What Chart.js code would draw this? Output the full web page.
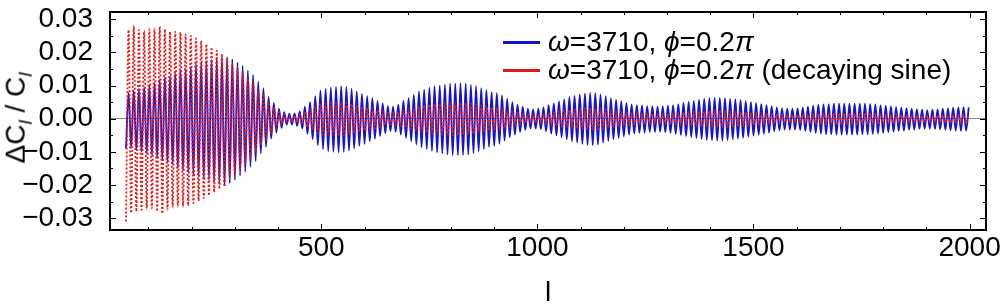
<!DOCTYPE html>
<html lang="en">
<head>
<meta charset="UTF-8">
<title>Relative change of C_l</title>
<script src="https://cdn.jsdelivr.net/npm/chart.js"></script>
<style>
  body { margin: 0; background: #fff; }
  #wrap { position: relative; width: 1000px; height: 307px; }
  #legend { position: absolute; left: 503px; top: 28px; font-family: "Liberation Sans", Arial, sans-serif; font-size: 28px; line-height: 28px; color: #000; }
  #legend .row { display: flex; align-items: center; white-space: nowrap; }
  #legend .swatch { width: 37px; height: 3px; margin-right: 8px; }
  #ytitle { position: absolute; left: 18px; top: 118px; transform: translate(-50%, -50%) rotate(-90deg); font-family: "Liberation Sans", Arial, sans-serif; font-size: 28px; white-space: nowrap; color: #000; }
  #ytitle sub { font-size: 19px; font-style: italic; }
</style>
</head>
<body>
<div id="wrap">
  <canvas id="chart" width="1000" height="307"></canvas>
  <div id="ytitle">&Delta;C<sub>l</sub> / C<sub>l</sub></div>
  <div id="legend">
    <div class="row"><span class="swatch" style="background:#1414c8"></span><span><i>ω</i>=3710, <i>ϕ</i>=0.2<i>π</i></span></div>
    <div class="row"><span class="swatch" style="background:#e01818"></span><span><i>ω</i>=3710, <i>ϕ</i>=0.2<i>π</i> (decaying sine)</span></div>
  </div>
</div>
<script>
// multipoles of each crest / trough
const ellValues = [
  48, 54, 60, 66, 72, 78, 84, 90, 96, 102,
  108, 114, 120, 126, 132, 138, 144, 150, 156, 162,
  168, 174, 180, 186, 192, 198, 204, 210, 216, 222,
  228, 234, 240, 246, 252, 258, 264, 270, 276, 282,
  288, 294, 300, 306, 312, 318, 324, 330, 336, 342,
  348, 354, 360, 366, 372, 378, 384, 390, 396, 402,
  408, 414, 420, 426, 432, 438, 444, 450, 456, 462,
  468, 474, 480, 486, 492, 498, 504, 510, 516, 522,
  528, 534, 540, 546, 552, 558, 564, 570, 576, 582,
  588, 594, 600, 606, 612, 618, 624, 630, 636, 642,
  648, 654, 660, 666, 672, 678, 684, 690, 696, 702,
  708, 714, 720, 726, 732, 738, 744, 750, 756, 762,
  768, 774, 780, 786, 792, 798, 804, 810, 816, 822,
  828, 834, 840, 846, 852, 858, 864, 870, 876, 882,
  888, 894, 900, 906, 912, 918, 924, 930, 936, 942,
  948, 954, 960, 966, 972, 978, 984, 990, 996, 1002,
  1008, 1014, 1020, 1026, 1032, 1038, 1044, 1050, 1056, 1062,
  1068, 1074, 1080, 1086, 1092, 1098, 1104, 1110, 1116, 1122,
  1128, 1134, 1140, 1146, 1152, 1158, 1164, 1170, 1176, 1182,
  1188, 1194, 1200, 1206, 1212, 1218, 1224, 1230, 1236, 1242,
  1248, 1254, 1260, 1266, 1272, 1278, 1284, 1290, 1296, 1302,
  1308, 1314, 1320, 1326, 1332, 1338, 1344, 1350, 1356, 1362,
  1368, 1374, 1380, 1386, 1392, 1398, 1404, 1410, 1416, 1422,
  1428, 1434, 1440, 1446, 1452, 1458, 1464, 1470, 1476, 1482,
  1488, 1494, 1500, 1506, 1512, 1518, 1524, 1530, 1536, 1542,
  1548, 1554, 1560, 1566, 1572, 1578, 1584, 1590, 1596, 1602,
  1608, 1614, 1620, 1626, 1632, 1638, 1644, 1650, 1656, 1662,
  1668, 1674, 1680, 1686, 1692, 1698, 1704, 1710, 1716, 1722,
  1728, 1734, 1740, 1746, 1752, 1758, 1764, 1770, 1776, 1782,
  1788, 1794, 1800, 1806, 1812, 1818, 1824, 1830, 1836, 1842,
  1848, 1854, 1860, 1866, 1872, 1878, 1884, 1890, 1896, 1902,
  1908, 1914, 1920, 1926, 1932, 1938, 1944, 1950, 1956, 1962,
  1968, 1974, 1980, 1986, 1992, 1998
];

// blue: omega=3710, phi=0.2pi
const blueValues = [
  -0.0090, 0.0078, -0.0088, 0.0085, -0.0095, 0.0090, -0.0100, 0.0095, -0.0105, 0.0100,
  -0.0110, 0.0108, -0.0118, 0.0118, -0.0125, 0.0125, -0.0132, 0.0130, -0.0138, 0.0138,
  -0.0150, 0.0148, -0.0155, 0.0152, -0.0162, 0.0158, -0.0168, 0.0165, -0.0175, 0.0170,
  -0.0180, 0.0172, -0.0185, 0.0178, -0.0190, 0.0180, -0.0198, 0.0185, -0.0200, 0.0185,
  -0.0195, 0.0180, -0.0185, 0.0170, -0.0172, 0.0160, -0.0160, 0.0146, -0.0145, 0.0132,
  -0.0128, 0.0112, -0.0105, 0.0092, -0.0085, 0.0066, -0.0060, 0.0048, -0.0042, 0.0030,
  -0.0028, 0.0020, -0.0018, 0.0015, -0.0018, 0.0016, -0.0022, 0.0022, -0.0030, 0.0036,
  -0.0046, 0.0050, -0.0062, 0.0068, -0.0080, 0.0085, -0.0092, 0.0090, -0.0098, 0.0094,
  -0.0100, 0.0096, -0.0102, 0.0098, -0.0100, 0.0096, -0.0096, 0.0090, -0.0090, 0.0082,
  -0.0082, 0.0075, -0.0076, 0.0068, -0.0068, 0.0062, -0.0060, 0.0054, -0.0052, 0.0046,
  -0.0044, 0.0038, -0.0038, 0.0036, -0.0040, 0.0042, -0.0048, 0.0054, -0.0058, 0.0062,
  -0.0068, 0.0072, -0.0078, 0.0082, -0.0086, 0.0088, -0.0092, 0.0094, -0.0097, 0.0098,
  -0.0102, 0.0100, -0.0105, 0.0103, -0.0108, 0.0106, -0.0110, 0.0106, -0.0110, 0.0107,
  -0.0110, 0.0106, -0.0108, 0.0102, -0.0104, 0.0098, -0.0098, 0.0092, -0.0092, 0.0086,
  -0.0085, 0.0080, -0.0082, 0.0077, -0.0076, 0.0070, -0.0066, 0.0060, -0.0056, 0.0050,
  -0.0048, 0.0042, -0.0040, 0.0036, -0.0034, 0.0030, -0.0030, 0.0028, -0.0030, 0.0030,
  -0.0032, 0.0034, -0.0038, 0.0041, -0.0045, 0.0046, -0.0050, 0.0052, -0.0056, 0.0058,
  -0.0062, 0.0065, -0.0068, 0.0069, -0.0072, 0.0073, -0.0076, 0.0076, -0.0079, 0.0078,
  -0.0080, 0.0077, -0.0078, 0.0073, -0.0072, 0.0068, -0.0067, 0.0062, -0.0062, 0.0057,
  -0.0058, 0.0052, -0.0053, 0.0047, -0.0048, 0.0043, -0.0045, 0.0041, -0.0043, 0.0040,
  -0.0042, 0.0038, -0.0040, 0.0037, -0.0040, 0.0036, -0.0039, 0.0037, -0.0041, 0.0039,
  -0.0043, 0.0041, -0.0046, 0.0044, -0.0049, 0.0048, -0.0052, 0.0051, -0.0055, 0.0054,
  -0.0058, 0.0057, -0.0061, 0.0060, -0.0064, 0.0062, -0.0065, 0.0063, -0.0066, 0.0063,
  -0.0066, 0.0062, -0.0064, 0.0060, -0.0062, 0.0058, -0.0060, 0.0056, -0.0057, 0.0053,
  -0.0054, 0.0050, -0.0051, 0.0047, -0.0048, 0.0044, -0.0045, 0.0041, -0.0042, 0.0038,
  -0.0038, 0.0034, -0.0035, 0.0031, -0.0033, 0.0030, -0.0033, 0.0030, -0.0033, 0.0031,
  -0.0034, 0.0033, -0.0037, 0.0036, -0.0040, 0.0039, -0.0043, 0.0042, -0.0045, 0.0043,
  -0.0047, 0.0044, -0.0047, 0.0045, -0.0048, 0.0045, -0.0048, 0.0045, -0.0048, 0.0045,
  -0.0048, 0.0045, -0.0048, 0.0045, -0.0047, 0.0045, -0.0047, 0.0044, -0.0046, 0.0043,
  -0.0045, 0.0041, -0.0043, 0.0039, -0.0041, 0.0037, -0.0039, 0.0035, -0.0037, 0.0033,
  -0.0036, 0.0032, -0.0034, 0.0030, -0.0033, 0.0029, -0.0031, 0.0027, -0.0030, 0.0026,
  -0.0030, 0.0027, -0.0031, 0.0028, -0.0032, 0.0030, -0.0033, 0.0031, -0.0035, 0.0033,
  -0.0036, 0.0034, -0.0037, 0.0035, -0.0036, 0.0034
];

// red dotted: omega=3710, phi=0.2pi (decaying sine)
const redValues = [
  -0.0310, 0.0268, -0.0285, 0.0280, -0.0280, 0.0268, -0.0275, 0.0265, -0.0272, 0.0270,
  -0.0270, 0.0272, -0.0280, 0.0278, -0.0287, 0.0270, -0.0275, 0.0262, -0.0268, 0.0262,
  -0.0265, 0.0260, -0.0265, 0.0255, -0.0262, 0.0250, -0.0255, 0.0242, -0.0248, 0.0235,
  -0.0240, 0.0225, -0.0232, 0.0215, -0.0222, 0.0205, -0.0212, 0.0195, -0.0205, 0.0185,
  -0.0180, 0.0165, -0.0168, 0.0153, -0.0152, 0.0140, -0.0138, 0.0125, -0.0122, 0.0110,
  -0.0100, 0.0087, -0.0080, 0.0070, -0.0063, 0.0049, -0.0044, 0.0034, -0.0029, 0.0020,
  -0.0018, 0.0013, -0.0011, 0.0009, -0.0011, 0.0010, -0.0013, 0.0013, -0.0017, 0.0021,
  -0.0026, 0.0028, -0.0034, 0.0037, -0.0043, 0.0045, -0.0048, 0.0046, -0.0050, 0.0047,
  -0.0050, 0.0048, -0.0051, 0.0049, -0.0050, 0.0047, -0.0047, 0.0044, -0.0044, 0.0040,
  -0.0039, 0.0036, -0.0036, 0.0033, -0.0033, 0.0030, -0.0029, 0.0026, -0.0025, 0.0022,
  -0.0021, 0.0018, -0.0018, 0.0017, -0.0019, 0.0020, -0.0023, 0.0025, -0.0027, 0.0029,
  -0.0031, 0.0033, -0.0036, 0.0038, -0.0040, 0.0040, -0.0042, 0.0043, -0.0045, 0.0045,
  -0.0046, 0.0045, -0.0047, 0.0046, -0.0049, 0.0048, -0.0050, 0.0048, -0.0050, 0.0048,
  -0.0048, 0.0047, -0.0048, 0.0045, -0.0046, 0.0043, -0.0043, 0.0040, -0.0040, 0.0038,
  -0.0037, 0.0035, -0.0036, 0.0034, -0.0033, 0.0031, -0.0029, 0.0026, -0.0025, 0.0022,
  -0.0021, 0.0018, -0.0017, 0.0015, -0.0015, 0.0013, -0.0013, 0.0012, -0.0013, 0.0013,
  -0.0013, 0.0014, -0.0016, 0.0017, -0.0019, 0.0019, -0.0021, 0.0022, -0.0024, 0.0024,
  -0.0025, 0.0027, -0.0028, 0.0028, -0.0030, 0.0030, -0.0031, 0.0031, -0.0032, 0.0032,
  -0.0033, 0.0032, -0.0032, 0.0030, -0.0030, 0.0028, -0.0027, 0.0025, -0.0025, 0.0023,
  -0.0023, 0.0021, -0.0021, 0.0019, -0.0019, 0.0017, -0.0018, 0.0016, -0.0017, 0.0016,
  -0.0017, 0.0015, -0.0016, 0.0015, -0.0016, 0.0014, -0.0016, 0.0015, -0.0016, 0.0016,
  -0.0017, 0.0016, -0.0018, 0.0017, -0.0019, 0.0019, -0.0020, 0.0020, -0.0021, 0.0021,
  -0.0023, 0.0022, -0.0024, 0.0023, -0.0025, 0.0024, -0.0025, 0.0025, -0.0026, 0.0025,
  -0.0025, 0.0024, -0.0024, 0.0023, -0.0024, 0.0022, -0.0023, 0.0021, -0.0022, 0.0020,
  -0.0021, 0.0019, -0.0019, 0.0018, -0.0018, 0.0017, -0.0017, 0.0016, -0.0016, 0.0014,
  -0.0014, 0.0013, -0.0013, 0.0012, -0.0012, 0.0011, -0.0012, 0.0011, -0.0012, 0.0011,
  -0.0013, 0.0012, -0.0014, 0.0013, -0.0015, 0.0014, -0.0016, 0.0016, -0.0017, 0.0016,
  -0.0017, 0.0016, -0.0017, 0.0017, -0.0018, 0.0017, -0.0018, 0.0017, -0.0018, 0.0017,
  -0.0017, 0.0016, -0.0017, 0.0016, -0.0017, 0.0016, -0.0017, 0.0016, -0.0017, 0.0015,
  -0.0016, 0.0015, -0.0015, 0.0014, -0.0015, 0.0013, -0.0014, 0.0013, -0.0013, 0.0012,
  -0.0013, 0.0011, -0.0012, 0.0011, -0.0012, 0.0010, -0.0011, 0.0010, -0.0011, 0.0009,
  -0.0011, 0.0010, -0.0011, 0.0010, -0.0011, 0.0011, -0.0012, 0.0011, -0.0012, 0.0012,
  -0.0013, 0.0012, -0.0013, 0.0012, -0.0013, 0.0012
];

const seriesLabels = ['ω=3710, ϕ=0.2π', 'ω=3710, ϕ=0.2π (decaying sine)'];
const xTickValues = [500, 1000, 1500, 2000];
const yTickValues = [-0.03, -0.02, -0.01, 0, 0.01, 0.02, 0.03];
const xRange = [11, 2038];
const yRange = [-0.0336, 0.0322];

function toPoints(values) {
  const n = Math.min(ellValues.length, values.length);
  const pts = [];
  for (let i = 0; i < n; i++) pts.push({ x: ellValues[i], y: values[i] });
  return pts;
}

function fmtY(v) {
  const s = Math.abs(v).toFixed(2);
  return v < -1e-9 ? '\u2212' + s : s;
}

// Mathematica style frame with inward ticks
const framePlugin = {
  id: 'frame',
  afterDraw(chart) {
    const { ctx, chartArea: a, scales: { x, y } } = chart;
    ctx.save();
    ctx.strokeStyle = '#000';
    ctx.lineWidth = 1;
    ctx.beginPath();
    for (let v = 100; v <= xRange[1]; v += 100) {
      const px = Math.round(x.getPixelForValue(v)) + 0.5;
      const len = v % 500 === 0 ? 6 : 3;
      ctx.moveTo(px, a.bottom); ctx.lineTo(px, a.bottom - len);
      ctx.moveTo(px, a.top); ctx.lineTo(px, a.top + len);
    }
    for (let k = -6; k <= 6; k++) {
      const v = k * 0.005;
      const py = Math.round(y.getPixelForValue(v)) + 0.5;
      const len = k % 2 === 0 ? 6 : 3;
      ctx.moveTo(a.left, py); ctx.lineTo(a.left + len, py);
      ctx.moveTo(a.right, py); ctx.lineTo(a.right - len, py);
    }
    ctx.stroke();
    ctx.lineWidth = 2;
    ctx.strokeRect(a.left, a.top, a.right - a.left, a.bottom - a.top);
    ctx.restore();
  }
};

const tickFont = { family: 'Liberation Sans', size: 28, lineHeight: 1 };

new Chart(document.getElementById('chart'), {
  type: 'line',
  data: {
    datasets: [
      {
        label: seriesLabels[0],
        data: toPoints(blueValues),
        borderColor: '#1414d2',
        borderWidth: 1.8,
        pointRadius: 0,
        cubicInterpolationMode: 'monotone',
        order: 1
      },
      {
        label: seriesLabels[1],
        data: toPoints(redValues),
        borderColor: '#e81818',
        borderWidth: 1.8,
        borderDash: [2, 2],
        pointRadius: 0,
        cubicInterpolationMode: 'monotone',
        order: 0
      }
    ]
  },
  options: {
    responsive: false,
    animation: false,
    devicePixelRatio: 1,
    layout: { padding: { top: 12, right: 14, left: 0, bottom: 0 } },
    plugins: { legend: { display: false }, tooltip: { enabled: false } },
    scales: {
      x: {
        type: 'linear',
        min: xRange[0],
        max: xRange[1],
        afterBuildTicks: s => { s.ticks = xTickValues.map(v => ({ value: v })); },
        afterFit: s => { s.height = 77; s.paddingLeft = 0; s.paddingRight = 0; },
        grid: { display: false, drawTicks: false },
        border: { display: false },
        ticks: {
          font: tickFont,
          color: '#000',
          padding: 4,
          maxRotation: 0,
          autoSkip: false,
          callback: v => String(v)
        },
        title: {
          display: true,
          text: 'l',
          font: { family: 'Liberation Sans', size: 28, lineHeight: 1 },
          color: '#000',
          padding: { top: 0, bottom: 0 }
        }
      },
      y: {
        min: yRange[0],
        max: yRange[1],
        afterBuildTicks: s => { s.ticks = yTickValues.map(v => ({ value: v })); },
        afterFit: s => { s.width = 110; s.paddingTop = 0; s.paddingBottom = 0; },
        grid: {
          color: c => (c.tick && Math.abs(c.tick.value) < 1e-9 ? '#8a8a8a' : 'rgba(0,0,0,0)'),
          lineWidth: 1,
          drawTicks: false
        },
        border: { display: false },
        ticks: {
          font: tickFont,
          color: '#000',
          padding: 17,
          autoSkip: false,
          callback: v => fmtY(v)
        }
      }
    }
  },
  plugins: [framePlugin]
});
</script>
</body>
</html>
